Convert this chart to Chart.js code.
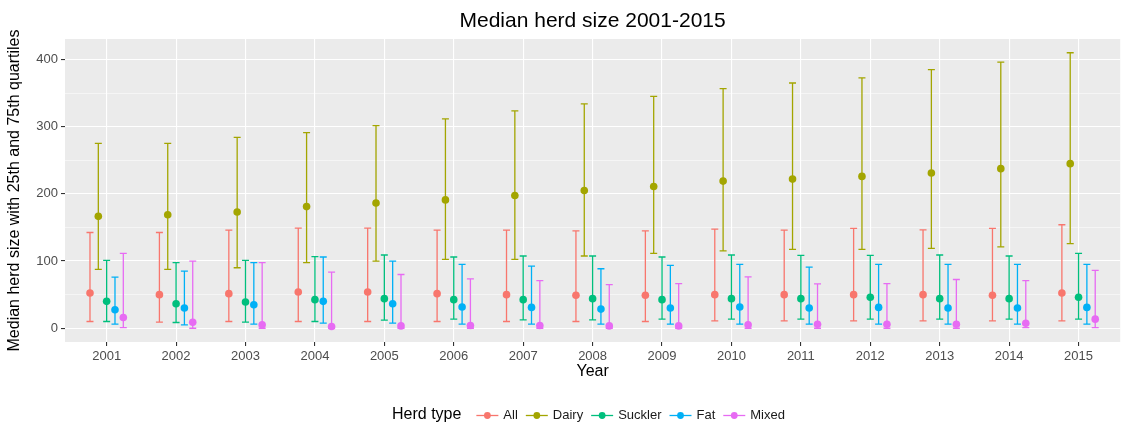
<!DOCTYPE html>
<html>
<head>
<meta charset="utf-8">
<title>Median herd size 2001-2015</title>
<script src="https://cdn.jsdelivr.net/npm/chart.js@4.4.1/dist/chart.umd.min.js"></script>
<style>
  html, body { margin: 0; padding: 0; background: #fff; }
</style>
</head>
<body>
<canvas id="grafico-rebano" width="1124" height="430"></canvas>
<script>
// Años y tipos de rebaño
const years = [2001, 2002, 2003, 2004, 2005, 2006, 2007, 2008, 2009, 2010, 2011, 2012, 2013, 2014, 2015];
const herdTypes = ['All', 'Dairy', 'Suckler', 'Fat', 'Mixed'];
const herdColors = ['#F8766D', '#A3A500', '#00BF7D', '#00B0F6', '#E76BF3'];
const yTicks = [0, 50, 100, 150, 200, 250, 300, 350, 400];

// Mediana y cuartiles 25 / 75 por tipo
const allMedian = [52.5, 50, 51.5, 54, 54, 51.5, 50, 49, 49, 50, 50, 50, 50, 49, 52.5];
const allQ25 = [10, 9, 10, 10, 10, 10, 10, 10, 10, 11, 11, 11, 11, 11, 11];
const allQ75 = [142.5, 142.5, 146, 149, 149, 146, 146, 145, 145, 147.5, 146, 148.5, 146.5, 148.5, 154];

const dairyMedian = [166.5, 169, 173, 181, 186.5, 191, 197.5, 205, 211, 219, 222, 226, 231, 237.5, 245];
const dairyQ25 = [87.5, 87.5, 90, 97.5, 100, 102.5, 102.5, 107.5, 111.5, 115, 117.5, 117.5, 119, 121, 126];
const dairyQ75 = [275, 275, 284, 291, 301.5, 311.5, 323.5, 334, 345, 356.5, 365, 372.5, 385, 396, 410];

const sucklerMedian = [40, 36.5, 39, 42.5, 44, 42.5, 42.5, 44, 42.5, 44, 44, 46, 44, 44, 46];
const sucklerQ25 = [10, 8.5, 9, 10, 12, 13.5, 12.5, 12.5, 13.5, 13.5, 13.5, 13.5, 13.5, 13.5, 13.5];
const sucklerQ75 = [101, 97.5, 101, 106.5, 109, 106, 107.5, 107.5, 106, 109, 108.5, 108.5, 109, 107.5, 111.5];

const fatMedian = [27.5, 30, 35, 40, 36.5, 31.5, 31, 28.5, 30, 31.5, 30, 31, 30, 30, 31];
const fatQ25 = [6, 5, 6, 7.5, 7.5, 6, 6, 6, 6, 6, 6, 6, 6, 6, 6];
const fatQ75 = [76, 85, 97.5, 106, 100, 95, 92.5, 88.5, 93.5, 95, 91, 95, 95, 95, 95];

const mixedMedian = [16, 9, 5, 2.5, 3.5, 4, 4, 3.5, 3.5, 5, 6, 6, 6, 7.5, 13.5];
const mixedQ25 = [1, 0, 0, 0, 0, 0, 0, 0, 0, 0, 0, 0, 0, 1, 1];
const mixedQ75 = [111.5, 100, 97.5, 83.5, 80, 73.5, 71, 65, 66.5, 76.5, 66, 66.5, 72.5, 71, 86];

const series = [
  { median: allMedian, low: allQ25, high: allQ75 },
  { median: dairyMedian, low: dairyQ25, high: dairyQ75 },
  { median: sucklerMedian, low: sucklerQ25, high: sucklerQ75 },
  { median: fatMedian, low: fatQ25, high: fatQ75 },
  { median: mixedMedian, low: mixedQ25, high: mixedQ75 }
];

// separación de los grupos dentro de cada año
const dodge = 0.6;
const FONT = '"Liberation Sans", Arial, Helvetica, sans-serif';

const datasets = herdTypes.map((name, i) => {
  const off = (i - (herdTypes.length - 1) / 2) * dodge / herdTypes.length;
  return {
    label: name,
    data: years.map((yr, j) => ({
      x: yr + off,
      y: series[i].median[j],
      low: series[i].low[j],
      high: series[i].high[j]
    })),
    backgroundColor: herdColors[i],
    borderColor: herdColors[i],
    borderWidth: 0,
    pointRadius: 3.8,
    pointHoverRadius: 3.8
  };
});

// fondo gris del panel
const panelFondo = {
  id: 'panelFondo',
  beforeDraw(chart) {
    const { ctx, chartArea: a } = chart;
    ctx.save();
    ctx.fillStyle = '#EBEBEB';
    ctx.fillRect(a.left, a.top, a.right - a.left, a.bottom - a.top);
    ctx.restore();
  }
};

// barras de error (cuartil 25 a 75)
const barrasError = {
  id: 'barrasError',
  beforeDatasetsDraw(chart) {
    const { ctx } = chart;
    const yScale = chart.scales.y;
    ctx.save();
    ctx.lineWidth = 1.3;
    chart.data.datasets.forEach((ds, i) => {
      const meta = chart.getDatasetMeta(i);
      ctx.strokeStyle = ds.borderColor;
      meta.data.forEach((pt, j) => {
        const d = ds.data[j];
        const x = pt.x;
        const yLo = yScale.getPixelForValue(d.low);
        const yHi = yScale.getPixelForValue(d.high);
        ctx.beginPath();
        ctx.moveTo(x, yLo);
        ctx.lineTo(x, yHi);
        ctx.moveTo(x - 3.5, yLo);
        ctx.lineTo(x + 3.5, yLo);
        ctx.moveTo(x - 3.5, yHi);
        ctx.lineTo(x + 3.5, yHi);
        ctx.stroke();
      });
    });
    ctx.restore();
  }
};

// título y leyenda
const textos = {
  id: 'textos',
  afterDraw(chart) {
    const { ctx, chartArea: a } = chart;
    ctx.save();
    ctx.textBaseline = 'middle';
    ctx.fillStyle = '#000';
    ctx.textAlign = 'center';
    ctx.font = '21px ' + FONT;
    ctx.fillText('Median herd size 2001-2015', (a.left + a.right) / 2, 21);

    const ly = 415;
    let x = 392;
    ctx.textAlign = 'left';
    ctx.font = '16px ' + FONT;
    ctx.fillText('Herd type', x, ly);
    x += ctx.measureText('Herd type').width + 15;
    ctx.font = '13px ' + FONT;
    herdTypes.forEach((name, i) => {
      ctx.strokeStyle = herdColors[i];
      ctx.fillStyle = herdColors[i];
      ctx.lineWidth = 1.3;
      ctx.beginPath();
      ctx.moveTo(x, ly + 0.5);
      ctx.lineTo(x + 22, ly + 0.5);
      ctx.stroke();
      ctx.beginPath();
      ctx.arc(x + 11, ly + 0.5, 3.4, 0, Math.PI * 2);
      ctx.fill();
      x += 27;
      ctx.fillStyle = '#1A1A1A';
      ctx.fillText(name, x, ly);
      x += ctx.measureText(name).width + 8;
    });
    ctx.restore();
  }
};

new Chart(document.getElementById('grafico-rebano'), {
  type: 'scatter',
  data: { datasets },
  options: {
    responsive: false,
    animation: false,
    devicePixelRatio: 1,
    layout: { padding: { top: 39, bottom: 48, left: 0, right: 0 } },
    plugins: {
      legend: { display: false },
      title: { display: false },
      tooltip: { enabled: false }
    },
    scales: {
      x: {
        type: 'linear',
        min: 2000.4,
        max: 2015.6,
        afterBuildTicks: s => { s.ticks = years.map(v => ({ value: v })); },
        afterFit: s => { s.height = 40; },
        ticks: {
          callback: v => String(v),
          color: '#4D4D4D',
          font: { family: FONT, size: 13 },
          padding: 3,
          maxRotation: 0,
          autoSkip: false
        },
        grid: { color: '#FFFFFF', lineWidth: 1.1, tickColor: '#333333', tickLength: 4 },
        border: { display: false },
        title: {
          display: true,
          text: 'Year',
          color: '#000',
          font: { family: FONT, size: 16 },
          padding: { top: 0, bottom: 1 }
        }
      },
      y: {
        min: -20.5,
        max: 430.5,
        afterBuildTicks: s => { s.ticks = yTicks.map(v => ({ value: v })); },
        afterFit: s => { s.width = 65; },
        ticks: {
          callback: v => (v % 100 === 0 ? String(v) : ''),
          color: '#4D4D4D',
          font: { family: FONT, size: 13 },
          padding: 3
        },
        grid: {
          color: '#FFFFFF',
          lineWidth: c => (c.tick && c.tick.value % 100 === 0 ? 1.1 : 0.5),
          tickColor: c => (c.tick && c.tick.value % 100 === 0 ? '#333333' : 'rgba(0,0,0,0)'),
          tickLength: 4
        },
        border: { display: false },
        title: {
          display: true,
          text: 'Median herd size with 25th and 75th quartiles',
          color: '#000',
          font: { family: FONT, size: 16 },
          padding: { top: 5, bottom: 0 }
        }
      }
    }
  },
  plugins: [panelFondo, barrasError, textos]
});
</script>
</body>
</html>
